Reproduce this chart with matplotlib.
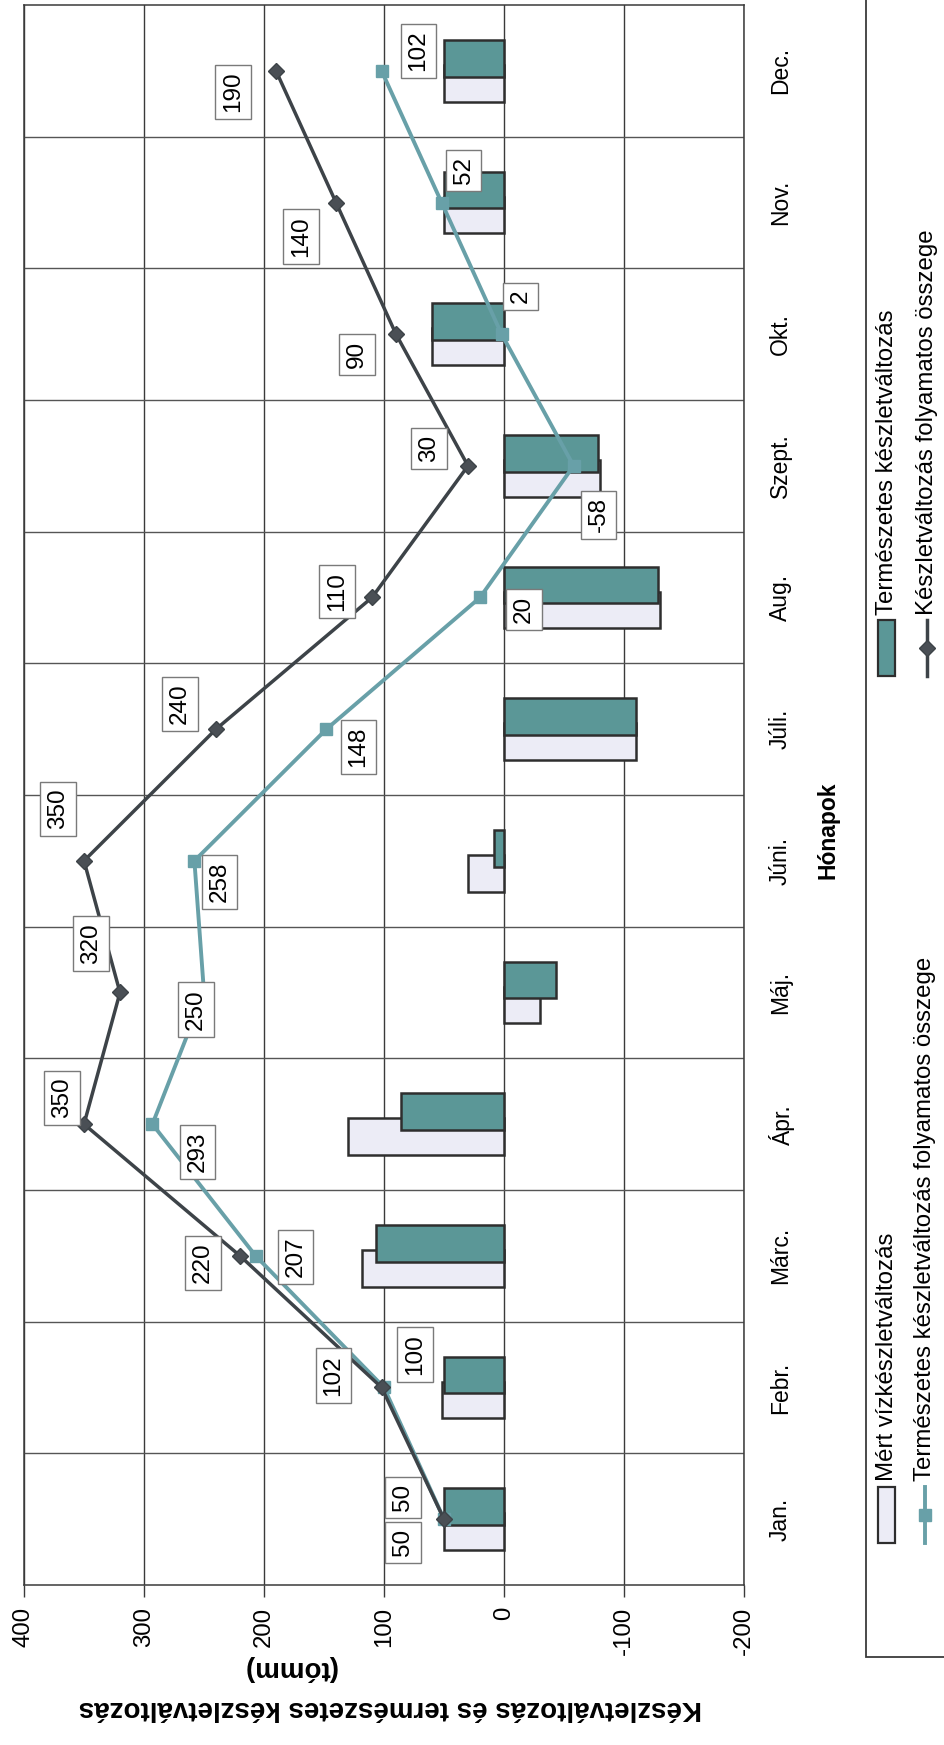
import numpy as np
import matplotlib
matplotlib.use("Agg")
import matplotlib.pyplot as plt
from matplotlib.patches import Rectangle
from matplotlib.lines import Line2D

plt.rcParams['font.family'] = ['Liberation Sans', 'DejaVu Sans']
plt.rcParams['axes.unicode_minus'] = False

# ---- data -------------------------------------------------------------
months = ["Jan.", "Febr.", "Márc.", "Ápr.", "Máj.", "Júni.",
          "Júli.", "Aug.", "Szept.", "Okt.", "Nov.", "Dec."]
measured_change = [50, 52, 118, 130, -30, 30, -110, -130, -80, 60, 50, 50]
natural_change = [50, 50, 107, 86, -43, 8, -110, -128, -78, 60, 50, 50]
natural_cumsum = [50, 100, 207, 293, 250, 258, 148, 20, -58, 2, 52, 102]
measured_cumsum = [50, 102, 220, 350, 320, 350, 240, 110, 30, 90, 140, 190]
value_ticks = [400, 300, 200, 100, 0, -100, -200]
value_tick_labels = ["400", "300", "200", "100", "0", "-100", "-200"]

series_names = ["Mért vízkészletváltozás",
                "Természetes készletváltozás",
                "Természetes készletváltozás folyamatos összege",
                "Készletváltozás folyamatos összege"]
value_title = "Készletváltozás és természetes készletváltozás"
value_unit = "(tómm)"
category_title = "Hónapok"

# ---- styling ----------------------------------------------------------
LAVENDER = "#ECECF6"
TEAL_BAR = "#5B9797"
TEAL_LINE = "#68A0A8"
DARK_LINE = "#3D4348"
EDGE = "#2E2E2E"
GRID = "#3A3A3A"

W, H = 944, 1745
PT = 72 / 100  # pixels -> points at 100 dpi

# label offsets (pixels, x right / y down) for the cumulative-series labels
dark_label_offsets = [(-41, -22), (-48, -12), (-37, 7), (-22, -26), (-29, -49), (-26, -52),
                      (-36, -25), (-35, -6), (-39, -17), (-39, 20), (-35, 34), (-43, 21)]
teal_label_offsets = [(-41, 23), (31, -33), (40, 1), (45, 28), (-8, 17), (25, 21),
                      (32, 18), (44, 12), (25, 49), (19, -38), (22, -32), (37, -20)]

fig = plt.figure(figsize=(W / 100, H / 100), dpi=100)
fig.patch.set_facecolor("white")

# plot area in pixel coordinates
L, R, T, B = 24, 744, 5, 1585
ax = fig.add_axes([L / W, 1 - B / H, (R - L) / W, (B - T) / H])
idx = np.arange(len(months))

ax.set_xlim(400, -200)
ax.set_ylim(-0.5, len(months) - 0.5)

# bars
bar_h = 0.28
shift = 0.095
ax.barh(idx - shift, measured_change, height=bar_h, color=LAVENDER,
        edgecolor=EDGE, linewidth=1.8, zorder=2)
ax.barh(idx + shift, natural_change, height=bar_h, color=TEAL_BAR,
        edgecolor=EDGE, linewidth=1.8, zorder=3)

# cumulative lines
ax.plot(natural_cumsum, idx, color=TEAL_LINE, lw=2.8, marker="s", ms=9,
        mfc=TEAL_LINE, mec=TEAL_LINE, zorder=4)
ax.plot(measured_cumsum, idx, color=DARK_LINE, lw=2.5, marker="D", ms=8,
        mfc="#4A4F55", mec=DARK_LINE, zorder=5)

box = dict(boxstyle="square,pad=0.28", fc="white", ec="#7A7A7A", lw=1.0)
for i, (v, (dx, dy)) in enumerate(zip(measured_cumsum, dark_label_offsets)):
    ax.annotate(str(v), xy=(v, i), xytext=(dx * PT, -dy * PT), textcoords="offset points",
                ha="center", va="center", rotation=90, fontsize=17.5, bbox=box, zorder=7)
for i, (v, (dx, dy)) in enumerate(zip(natural_cumsum, teal_label_offsets)):
    ax.annotate(str(v), xy=(v, i), xytext=(dx * PT, -dy * PT), textcoords="offset points",
                ha="center", va="center", rotation=90, fontsize=17.5, bbox=box, zorder=7)

# grid and axes
ax.set_xticks(value_ticks)
ax.set_xticklabels(value_tick_labels, rotation=90, fontsize=17.3)
ax.tick_params(axis="x", direction="out", length=8.6, width=1.0, pad=7, color=GRID)
ax.set_yticks(idx)
ax.set_yticklabels([])
ax.tick_params(axis="y", length=0)
ax.set_yticks(np.arange(0.5, len(months) - 0.5, 1), minor=True)
ax.tick_params(axis="y", which="minor", length=0)
ax.grid(axis="x", which="major", color=GRID, lw=1.0, zorder=0)
ax.grid(axis="y", which="minor", color="#555555", lw=1.0, zorder=0)
ax.set_axisbelow(True)
for s in ax.spines.values():
    s.set_color(GRID)
    s.set_linewidth(1.1)

for i, m in enumerate(months):
    ax.annotate(m, xy=(1, i), xycoords=("axes fraction", "data"),
                xytext=(25 * PT, 0), textcoords="offset points",
                ha="left", va="center", rotation=90, fontsize=16.5)

# overlay in pixel coordinates for titles and legend
ov = fig.add_axes([0, 0, 1, 1], zorder=10)
ov.set_xlim(0, W)
ov.set_ylim(H, 0)
ov.axis("off")

ov.text(828, 830, category_title, rotation=90, ha="center", va="center",
        fontsize=16.5, fontweight="bold")
ov.text(390, 1708, value_title, rotation=180, ha="center", va="center",
        fontsize=20, fontweight="bold")
ov.text(290, 1668, value_unit, rotation=180, ha="center", va="center",
        fontsize=20, fontweight="bold")

# legend
ov.add_patch(Rectangle((866, -20), 200, 1677, fc="white", ec="#3A3A3A", lw=1.3, zorder=1))
ov.add_patch(Rectangle((878, 1487), 17, 56, fc=LAVENDER, ec=EDGE, lw=1.6, zorder=2))
ov.add_patch(Rectangle((878, 620), 17, 56, fc=TEAL_BAR, ec=EDGE, lw=1.6, zorder=2))
ov.add_line(Line2D([925, 925], [1487, 1543], color=TEAL_LINE, lw=2.8, zorder=2))
ov.plot([925], [1515], marker="s", ms=9, color=TEAL_LINE, zorder=3)
ov.add_line(Line2D([927, 927], [620, 676], color=DARK_LINE, lw=2.5, zorder=2))
ov.plot([927], [648], marker="D", ms=8, mfc="#4A4F55", mec=DARK_LINE, zorder=3)

leg_fs = 17.3
ov.text(887, 1481, series_names[0], rotation=90, rotation_mode="anchor",
        ha="left", va="center", fontsize=leg_fs, zorder=3)
ov.text(925, 1481, series_names[2], rotation=90, rotation_mode="anchor",
        ha="left", va="center", fontsize=leg_fs, zorder=3)
ov.text(887, 615, series_names[1], rotation=90, rotation_mode="anchor",
        ha="left", va="center", fontsize=leg_fs, zorder=3)
ov.text(927, 615, series_names[3], rotation=90, rotation_mode="anchor",
        ha="left", va="center", fontsize=leg_fs, zorder=3)

fig.savefig("out.png", dpi=100, facecolor="white")
